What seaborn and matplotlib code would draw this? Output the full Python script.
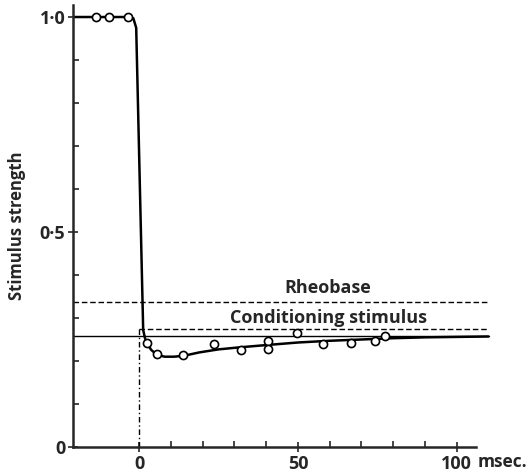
import numpy as np
import pandas as pd
import matplotlib
matplotlib.use('Agg')
import matplotlib.pyplot as plt
import seaborn as sns

## Data
# fitted curve (msec, relative stimulus strength)
curve_t = [-20.8, -3.5, -1.8, -0.9, 1.3, 1.9, 2.6, 3.8, 5.5, 8.0, 11.0, 14.0,
           19.0, 25.0, 32.0, 40.0, 50.0, 60.0, 70.0, 80.0, 90.0, 100.0, 110.0]
curve_s = [1.0, 1.0, 0.997, 0.975, 0.272, 0.252, 0.240, 0.226, 0.215, 0.210, 0.210, 0.212,
           0.220, 0.227, 0.232, 0.237, 0.243, 0.247, 0.250, 0.253, 0.255, 0.256, 0.257]
# measured points
pts_t = [-13.5, -9.5, -3.5, 2.4, 5.6, 13.9, 23.6, 32.0, 40.7, 40.7, 49.7, 58.0, 66.7, 74.4, 77.4]
pts_s = [1.0, 1.0, 1.0, 0.241, 0.216, 0.214, 0.239, 0.226, 0.247, 0.227, 0.265, 0.240, 0.241, 0.247, 0.259]

rheobase     = 0.337
conditioning = 0.274
threshold    = 0.258

curve = pd.DataFrame({'t': curve_t, 's': curve_s})
pts   = pd.DataFrame({'t': pts_t, 's': pts_s})

sns.set_style('ticks')
plt.rcParams['font.family'] = ['Open Sans', 'DejaVu Sans']

fig = plt.figure(figsize=(5.3, 4.74), dpi=100)
ax = fig.add_axes([0.1377, 0.057, 0.79, 0.9325])

## Reference lines
ax.plot([-20.8, 110], [threshold, threshold], color='k', lw=1.0)
ax.plot([-20.8, 110], [rheobase, rheobase], color='k', lw=1.0, dashes=(4, 2))
ax.plot([0, 110], [conditioning, conditioning], color='k', lw=1.0, dashes=(4, 2))
ax.plot([0, 0], [0, conditioning], color='k', lw=1.0, dashes=(4, 2, 1, 2))

## Curve and points
sns.lineplot(data=curve, x='t', y='s', ax=ax, color='k', lw=1.8, sort=False)
sns.scatterplot(data=pts, x='t', y='s', ax=ax, marker='o', s=34,
                facecolor='white', edgecolor='k', linewidth=1.2, zorder=5)

## Annotations
ax.text(59.5, rheobase + 0.012, 'Rheobase', ha='center', va='bottom',
        fontsize=13, fontweight='bold')
ax.text(59.5, conditioning + 0.006, 'Conditioning stimulus', ha='center', va='bottom',
        fontsize=13, fontweight='bold')
ax.text(106.6, -0.036, 'msec.', ha='left', va='center', fontsize=12.5, fontweight='bold')

## Axes customization
ax.set_xlim(-20.8, 111)
ax.set_ylim(0, 1.028)
ax.spines['top'].set_visible(False)
ax.spines['right'].set_visible(False)
ax.spines['left'].set_linewidth(1.8)
ax.spines['bottom'].set_linewidth(1.8)
ax.spines['bottom'].set_bounds(-20.8, 106)
ax.set_xticks([0, 50, 100])
ax.set_xticklabels(['0', '50', '100'])
ax.set_xticks(np.arange(10, 100, 10), minor=True)
ax.set_yticks([0, 0.5, 1.0])
ax.set_yticklabels(['0', '0·5', '1·0'])
ax.set_yticks(np.arange(0.1, 1.0, 0.1), minor=True)
ax.tick_params(which='major', direction='inout', length=7, width=1.2, labelsize=13, pad=2)
ax.tick_params(which='minor', direction='in', length=4, width=1.2)
for lab in ax.get_xticklabels() + ax.get_yticklabels():
    lab.set_fontweight('bold')
ax.set_xlabel('')
ax.set_ylabel('Stimulus strength', fontsize=12, fontweight='bold', labelpad=10)

fig.savefig('out.png', dpi=100)
